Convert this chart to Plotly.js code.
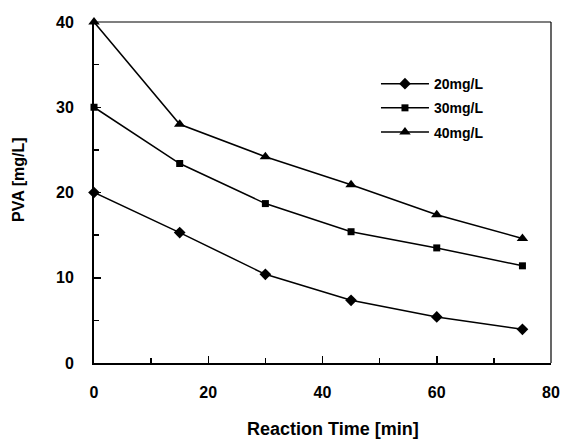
<!DOCTYPE html>
<html><head><meta charset="utf-8">
<script src="https://cdn.plot.ly/plotly-3.0.1.min.js"></script>
<style>body{margin:0;background:#fff}#c{width:562px;height:440px}</style>
</head><body><div id="c"></div>
<script>
const time = [0, 15, 30, 45, 60, 75];
const pva20 = [20, 15.3, 10.4, 7.35, 5.4, 3.95];
const pva30 = [30, 23.4, 18.7, 15.4, 13.5, 11.4];
const pva40 = [40, 28.0, 24.2, 20.9, 17.4, 14.6];
const seriesNames = ['20mg/L', '30mg/L', '40mg/L'];
const xTitle = 'Reaction Time [min]';
const yTitle = 'PVA [mg/L]';
const FONT = 'Liberation Sans, Arial, sans-serif';

const mk = (y, name, sym, size) => ({
  x: time, y: y, name: name, legendgroup: name, type: 'scatter', mode: 'lines+markers',
  line: {color: '#000', width: 1.5},
  marker: {symbol: sym, size: size, color: '#000'},
  cliponaxis: false
});
const data = [
  mk(pva20, seriesNames[0], 'diamond', 9),
  mk(pva30, seriesNames[1], 'square', 7),
  mk(pva40, seriesNames[2], 'triangle-up', 10)
];
const axisCommon = {
  showgrid: false, zeroline: false, showline: true, linecolor: '#000', linewidth: 2,
  ticks: 'inside', ticklen: 7, tickwidth: 1.5, tickcolor: '#000', tickmode: 'linear',
  tickfont: {family: FONT, size: 16, color: '#000', weight: 'bold'}
};
const layout = {
  width: 562, height: 440,
  margin: {l: 94, r: 11, t: 22, b: 77},
  paper_bgcolor: '#fff', plot_bgcolor: '#fff',
  showlegend: true,
  legend: {x: 0.617, y: 0.865, xanchor: 'left', yanchor: 'top',
    font: {family: FONT, size: 14, color: '#000', weight: 'bold'},
    bgcolor: 'rgba(0,0,0,0)', tracegroupgap: 3, traceorder: 'grouped'},
  xaxis: Object.assign({}, axisCommon, {
    range: [0, 80], tick0: 0, dtick: 20, ticklabelstandoff: 14,
    minor: {ticks: 'inside', ticklen: 5, tickwidth: 1.5, tickcolor: '#000', dtick: 10, tick0: 0}
  }),
  yaxis: Object.assign({}, axisCommon, {
    range: [0, 40], tick0: 0, dtick: 10, ticklabelstandoff: 15,
    minor: {ticks: 'inside', ticklen: 5, tickwidth: 1.5, tickcolor: '#000', dtick: 5, tick0: 0}
  }),
  annotations: [
    {text: xTitle, xref: 'paper', yref: 'paper', x: 0.522, y: -0.195, xanchor: 'center', yanchor: 'middle',
     showarrow: false, font: {family: FONT, size: 18, color: '#000', weight: 'bold'}},
    {text: yTitle, xref: 'paper', yref: 'paper', x: -0.164, y: 0.537, xanchor: 'center', yanchor: 'middle',
     textangle: -90, showarrow: false, font: {family: FONT, size: 16, color: '#000', weight: 'bold'}}
  ],
  shapes: [
    {type: 'line', xref: 'paper', yref: 'paper', x0: 0, x1: 1, y0: 1, y1: 1, line: {color: '#000', width: 1.2}},
    {type: 'line', xref: 'paper', yref: 'paper', x0: 1, x1: 1, y0: 0, y1: 1, line: {color: '#000', width: 1.2}}
  ]
};
Plotly.newPlot('c', data, layout, {displayModeBar: false, staticPlot: true}).then(() => {
  document.querySelectorAll('.legend [clip-path]').forEach(el => el.removeAttribute('clip-path'));
  document.querySelectorAll('.legend .traces').forEach(tr => {
    const ln = tr.querySelector('path.js-line');
    if (ln) ln.setAttribute('d', 'M5,0h48');
    tr.querySelectorAll('.legendpoints path').forEach(p => p.setAttribute('transform', 'translate(29,0)'));
    const txt = tr.querySelector('text.legendtext');
    if (txt) txt.setAttribute('x', 58);
  });
});
</script></body></html>
